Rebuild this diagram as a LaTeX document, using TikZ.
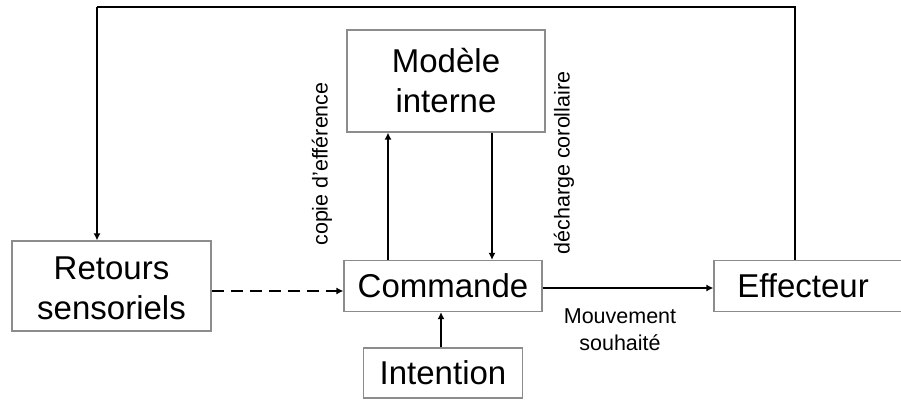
\documentclass[tikz,border=0pt]{standalone}
\usepackage{fontspec}
\setmainfont{Liberation Sans}
\usetikzlibrary{arrows.meta}
\begin{document}
\begin{tikzpicture}[x=1pt,y=-1pt,
  boxst/.style={draw=black!45,line width=1.2pt,inner sep=0pt,fill=white},
  bigtxt/.style={font=\fontsize{33}{40}\selectfont,align=center},
  smalltxt/.style={font=\fontsize{21.5}{27}\selectfont,align=center},
  conn/.style={line width=2.3pt,-{Latex[length=7pt,width=7pt]}},
  loopline/.style={line width=2.6pt}]
\useasboundingbox (0,0) rectangle (901,401);
\fill[white] (0,0) rectangle (901,401);
% boxes
\node[boxst,minimum width=198pt,minimum height=102pt] (modele) at (446,81) {};
\node[bigtxt] at (modele.center) {Modèle\\interne};
\node[boxst,minimum width=199pt,minimum height=90pt] (retours) at (111.5,286) {};
\node[bigtxt] at (111.5,288) {Retours\\sensoriels};
\node[boxst,minimum width=198pt,minimum height=51pt] (commande) at (443,286) {};
\node[bigtxt] at (commande.center) {Commande};
\node[boxst,minimum width=159pt,minimum height=50pt] (intention) at (443,373) {};
\node[bigtxt] at (intention.center) {Intention};
\node[boxst,minimum width=192pt,minimum height=51pt] (effecteur) at (810,286) {};
\node[bigtxt] at (803,286) {Effecteur};
% labels
\node[smalltxt,rotate=90] (copie) at (322,164) {copie d’efférence};
\node[smalltxt,rotate=90] (decharge) at (564,163) {décharge corollaire};
\node[smalltxt] (mvt) at (620,330) {Mouvement\\souhaité};
% connectors
\draw[conn] (commande.north -| 388,0) -- (modele.south -| 388,0);
\draw[conn] (modele.south -| 492,0) -- (commande.north -| 492,0);
\draw[conn] (intention.north -| 441,0) -- (commande.south -| 441,0);
\draw[conn] (commande.east |- 0,288) -- (effecteur.west |- 0,288);
\draw[line width=2.3pt,dashed,dash pattern=on 12pt off 7pt,-{Latex[length=7pt,width=7pt]}] (retours.east |- 0,291) -- (commande.west |- 0,291);
\coordinate (tr) at (795,7);
\coordinate (tl) at (97,7);
\draw[loopline] (effecteur.north -| 795,0) -- (tr) -- (tl);
\draw[conn,line width=2.6pt] (tl) -- (retours.north -| 97,0);
\end{tikzpicture}
\end{document}
